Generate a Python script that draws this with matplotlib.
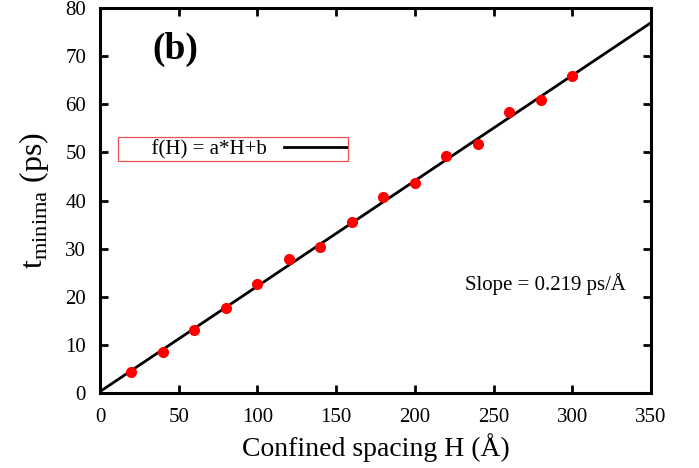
import matplotlib
matplotlib.use("Agg")
import matplotlib.pyplot as plt
import numpy as np

# confined spacing H (Angstrom) and time of minima (ps)
spacing = [20, 40, 60, 80, 100, 120, 140, 160, 180, 200, 220, 240, 260, 280, 300]
t_minima = [4.3, 8.5, 13.1, 17.7, 22.6, 27.8, 30.4, 35.6, 40.7, 43.6, 49.2, 51.7, 58.3, 60.9, 65.9]

# linear fit f(H) = a*H + b
fit_a = 0.219
fit_b = 0.3
fit_range = [0, 350]

plt.rcParams["font.family"] = ["Liberation Serif", "DejaVu Serif"]
plt.rcParams["mathtext.fontset"] = "custom"
plt.rcParams["mathtext.rm"] = "Liberation Serif"

fig = plt.figure(figsize=(6.99, 4.68), dpi=100)
ax = fig.add_axes([100 / 699, 1 - 393 / 468, 551 / 699, 385 / 468])

xs = np.array(fit_range)
ax.plot(xs, fit_a * xs + fit_b, color="black", lw=2.0, zorder=2,
        label="f(H) = a*H+b")
ax.plot(spacing, t_minima, "o", color="red", ms=8, mec="none", zorder=3)

ax.set_xlim(0, 350)
ax.set_ylim(0, 80)
ax.set_xticks(range(0, 351, 50))
ax.set_yticks(range(0, 81, 10))
ax.tick_params(direction="in", top=True, right=True, length=6, width=2,
               labelsize=15)
ax.tick_params(axis="y", pad=10)
ax.tick_params(axis="x", pad=11)
for s in ax.spines.values():
    s.set_linewidth(2.2)

ax.set_xlabel("Confined spacing H (Å)", fontsize=20, labelpad=4)
ax.set_ylabel(r"t$_{\mathrm{minima}}$ (ps)", fontsize=23, labelpad=10)

ax.text(0.095, 0.893, "(b)", transform=ax.transAxes, fontsize=27,
        fontweight="bold", ha="left", va="center")
ax.text(0.955, 0.282, "Slope = 0.219 ps/Å", transform=ax.transAxes,
        fontsize=15, ha="right", va="center")

ax.legend(loc="upper left", bbox_to_anchor=(0.033, 0.664), markerfirst=False,
          handlelength=3.0, handletextpad=0.8, borderpad=0.1, fontsize=15,
          fancybox=False, framealpha=1, edgecolor="#f05050",
          labelspacing=0.2, borderaxespad=0)
leg = ax.get_legend()
leg.get_frame().set_linewidth(0.9)
leg.get_texts()[0].set_text("      f(H) = a*H+b")

fig.savefig("out.png", dpi=100)
